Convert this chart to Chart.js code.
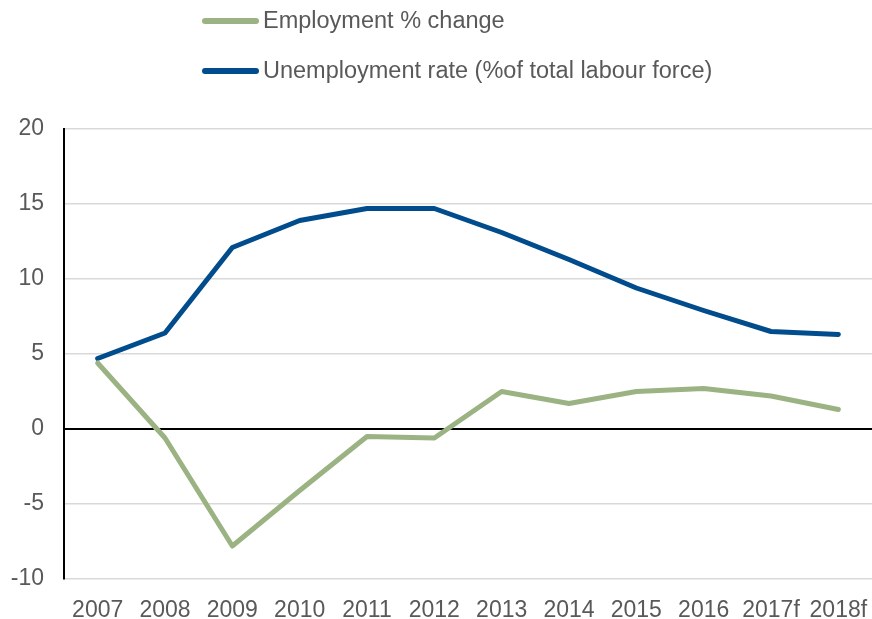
<!DOCTYPE html>
<html>
<head>
<meta charset="utf-8">
<script src="https://cdn.jsdelivr.net/npm/chart.js@4"></script>
<style>
  html, body { margin: 0; padding: 0; background: #fff; }
  #wrap { width: 872px; height: 619px; }
</style>
</head>
<body>
<div id="wrap"><canvas id="c" width="872" height="619"></canvas></div>
<script>
const years = ['2007', '2008', '2009', '2010', '2011', '2012', '2013', '2014', '2015', '2016', '2017f', '2018f'];
const employmentChange = [4.4, -0.6, -7.8, -4.1, -0.5, -0.6, 2.5, 1.7, 2.5, 2.7, 2.2, 1.3];
const unemploymentRate = [4.7, 6.4, 12.1, 13.9, 14.7, 14.7, 13.1, 11.3, 9.4, 7.9, 6.5, 6.3];
const seriesNames = ['Employment % change', 'Unemployment rate (%of total labour force)'];
const seriesColors = ['#9bb383', '#004c8c'];

const FONT = '"Liberation Sans", Arial, sans-serif';
const TEXT = '#595959';

// Stacked legend drawn above the plot, one entry per row
const stackedLegend = {
  id: 'stackedLegend',
  afterDraw(chart) {
    const ctx = chart.ctx;
    ctx.save();
    ctx.font = '23.5px ' + FONT;
    ctx.textBaseline = 'middle';
    ctx.textAlign = 'left';
    chart.data.datasets.forEach((ds, i) => {
      const y = 21 + i * 50;
      ctx.strokeStyle = ds.borderColor;
      ctx.lineWidth = 6;
      ctx.lineCap = 'round';
      ctx.beginPath();
      ctx.moveTo(205, y);
      ctx.lineTo(256, y);
      ctx.stroke();
      ctx.fillStyle = TEXT;
      ctx.fillText(ds.label, 263, y + 1);
    });
    ctx.restore();
  }
};

new Chart(document.getElementById('c'), {
  type: 'line',
  data: {
    labels: years,
    datasets: [
      { label: seriesNames[0], data: employmentChange, borderColor: seriesColors[0], backgroundColor: seriesColors[0] },
      { label: seriesNames[1], data: unemploymentRate, borderColor: seriesColors[1], backgroundColor: seriesColors[1] }
    ]
  },
  options: {
    responsive: false,
    animation: false,
    layout: { padding: { top: 129, left: 0, right: -4, bottom: 0 } },
    elements: {
      line: { borderWidth: 5, tension: 0, borderCapStyle: 'round', borderJoinStyle: 'round' },
      point: { radius: 0, hoverRadius: 0 }
    },
    plugins: {
      legend: { display: false },
      tooltip: { enabled: false }
    },
    scales: {
      x: {
        offset: true,
        grid: { display: false, drawTicks: false },
        border: { display: false },
        ticks: { color: TEXT, font: { family: FONT, size: 23 }, padding: 18, maxRotation: 0, autoSkip: false },
        afterFit(scale) {
          scale.height = 40;
          scale.paddingLeft = 0;
          scale.paddingRight = 0;
        }
      },
      y: {
        min: -10,
        max: 20,
        ticks: { stepSize: 5, color: TEXT, font: { family: FONT, size: 23 }, padding: 20 },
        grid: {
          drawTicks: false,
          color: (c) => (c.tick && c.tick.value === 0 ? '#000000' : '#d9d9d9'),
          lineWidth: (c) => (c.tick && c.tick.value === 0 ? 2 : 1.5)
        },
        border: { display: true, color: '#000000', width: 2 },
        afterFit(scale) {
          scale.width = 64;
          scale.paddingTop = 0;
          scale.paddingBottom = 0;
        }
      }
    }
  },
  plugins: [stackedLegend]
});
</script>
</body>
</html>
